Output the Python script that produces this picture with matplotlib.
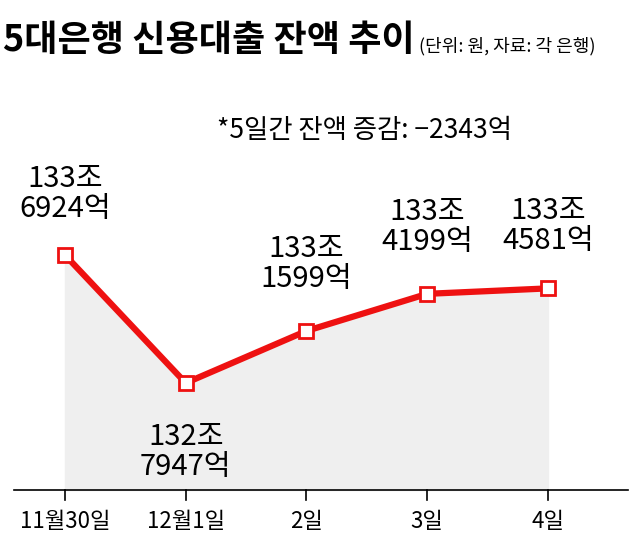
import matplotlib
matplotlib.use("Agg")
import matplotlib.pyplot as plt

plt.rcParams['font.family'] = ['Noto Sans CJK KR', 'DejaVu Sans']

categories = ["11월30일", "12월1일", "2일", "3일", "4일"]
values = [133.6924, 132.7947, 133.1599, 133.4199, 133.4581]  # 조 원
labels = ["133조\n6924억", "132조\n7947억", "133조\n1599억", "133조\n4199억", "133조\n4581억"]
label_offsets = [(0, 44), (0, -50), (0, 48), (0, 48), (0, 45)]

fig = plt.figure(figsize=(6.4, 5.44), dpi=100)
ax = fig.add_axes([0, 0, 1, 1])
ax.set_xlim(-0.538, 4.762)
ax.set_ylim(131.666, 135.48)
ax.axis('off')
base = 132.044
x = list(range(len(values)))

ax.fill_between(x, values, base, color='#efefef', zorder=1)
ax.plot([-0.42, 4.66], [base, base], color='black', lw=1.2, zorder=2)
for xi in x:
    ax.plot([xi, xi], [base, base - 0.07], color='black', lw=1.2, zorder=2)
    ax.text(xi, base - 0.22, categories[xi], ha='center', va='center', fontsize=16)
ax.plot(x, values, color='#ee1111', lw=4.5, zorder=3, solid_joinstyle='miter')
ax.plot(x, values, 's', ms=10, mfc='white', mec='#ee1111', mew=2, zorder=4)
for xi, v, lab, off in zip(x, values, labels, label_offsets):
    ax.annotate(lab, (xi, v), xytext=off, textcoords='offset points', ha='center', va='center',
                fontsize=21, linespacing=1.0)

fig.text(0.005, 0.925, "5대은행 신용대출 잔액 추이", fontsize=26, fontweight='bold', va='center', ha='left')
fig.text(0.655, 0.915, "(단위: 원, 자료: 각 은행)", fontsize=13, va='center', ha='left')
fig.text(0.57, 0.76, "*5일간 잔액 증감: −2343억", fontsize=19, va='center', ha='center')

fig.savefig("out.png", dpi=100)
